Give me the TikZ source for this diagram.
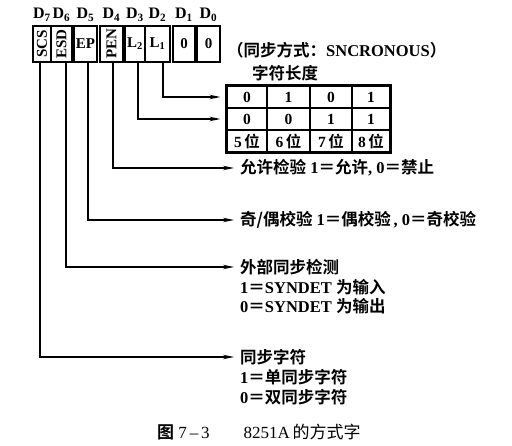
\documentclass[tikz,border=0pt]{standalone}
\usepackage{fontspec}
\setmainfont{Liberation Serif}
\newfontfamily\cjkfont{Noto Sans CJK SC}[BoldFont={* Bold}]
\usetikzlibrary{arrows.meta}
\newcommand\zh[1]{{\cjkfont #1}}
\begin{document}
\begin{tikzpicture}[x=1pt,y=-1pt,
  reg/.style={draw, line width=1.6pt, minimum height=36pt, inner sep=0pt,
    font=\bfseries\fontsize{15}{15}\selectfont},
  dlab/.style={inner sep=0pt, font=\bfseries\fontsize{16}{16}\selectfont},
  tcell/.style={draw, line width=1.1pt, minimum height=22pt, inner sep=0pt,
    font=\bfseries\fontsize{15.5}{15.5}\selectfont},
  lbl/.style={anchor=west, inner sep=0pt, font=\bfseries\fontsize{16.5}{16.5}\selectfont},
  conn/.style={line width=1.3pt},
  arr/.style={conn, -{Stealth[length=11pt,width=4.5pt]}, shorten >=6pt}]
\useasboundingbox (0,0) rectangle (512,446);
% register boxes
\node[reg, minimum width=18pt] (SCS) at (42,44) {\rotatebox{90}{SCS}};
\node[reg, minimum width=21pt] (ESD) at (61.5,44) {\rotatebox{90}{ESD}};
\node[reg, minimum width=23pt] (EP) at (85.5,44) {EP};
\node[reg, minimum width=23pt] (PEN) at (111.5,44) {\rotatebox{90}{PEN}};
\node[reg, minimum width=20pt] (L2) at (135,44) {L\textsubscript{2}};
\node[reg, minimum width=25pt] (L1) at (157.5,44) {L\textsubscript{1}};
\node[reg, minimum width=22pt] (B1) at (184,44) {0};
\node[reg, minimum width=23pt] (B0) at (208.5,44) {0};
% bit labels
\node[dlab] (d7) at (42,15) {D\textsubscript{7}};
\node[dlab] (d6) at (61.5,15) {D\textsubscript{6}};
\node[dlab] (d5) at (85.5,15) {D\textsubscript{5}};
\node[dlab] (d4) at (111.5,15) {D\textsubscript{4}};
\node[dlab] (d3) at (135,15) {D\textsubscript{3}};
\node[dlab] (d2) at (157.5,15) {D\textsubscript{2}};
\node[dlab] (d1) at (184,15) {D\textsubscript{1}};
\node[dlab] (d0) at (208.5,15) {D\textsubscript{0}};
% mode note
\node[lbl] (mode) at (227,50) {\zh{（同步方式：}SNCRONOUS\zh{）}};
% character length table
\node[lbl, anchor=center] (ttl) at (285,73) {\zh{字符长度}};
\node[tcell, minimum width=40pt] (c11) at (247,97) {0};
\node[tcell, minimum width=43pt] (c12) at (288.5,97) {1};
\node[tcell, minimum width=42pt] (c13) at (331,97) {0};
\node[tcell, minimum width=38pt] (c14) at (371,97) {1};
\node[tcell, minimum width=40pt] (c21) at (247,119) {0};
\node[tcell, minimum width=43pt] (c22) at (288.5,119) {0};
\node[tcell, minimum width=42pt] (c23) at (331,119) {1};
\node[tcell, minimum width=38pt] (c24) at (371,119) {1};
\node[tcell, minimum width=40pt] (c31) at (247,141) {5\,\zh{位}};
\node[tcell, minimum width=43pt] (c32) at (288.5,141) {6\,\zh{位}};
\node[tcell, minimum width=42pt] (c33) at (331,141) {7\,\zh{位}};
\node[tcell, minimum width=38pt] (c34) at (371,141) {8\,\zh{位}};
\draw[line width=2pt] (c11.north west) rectangle (c34.south east);
% descriptions
\node[lbl] (pen) at (240,168) {\zh{允许检验} 1\zh{＝允许}, 0\zh{＝禁止}};
\node[lbl] (ep) at (240,220) {\zh{奇/偶校验} 1\zh{＝偶校验}\,, 0\zh{＝奇校验}};
\node[lbl] (esd) at (240,267) {\zh{外部同步检测}};
\node[lbl] (esd2) at (240,287) {1\zh{＝}SYNDET \zh{为输入}};
\node[lbl] (esd3) at (240,306) {0\zh{＝}SYNDET \zh{为输出}};
\node[lbl] (scs) at (240,357) {\zh{同步字符}};
\node[lbl] (scs2) at (240,377) {1\zh{＝单同步字符}};
\node[lbl] (scs3) at (240,397) {0\zh{＝双同步字符}};
% caption
\node[anchor=west, inner sep=0pt, font=\fontsize{17}{17}\selectfont] (cap) at (157,432)
  {{\cjkfont\bfseries 图}\ 7\,--\,3\qquad 8251A\,{\cjkfont 的方式字}};
% connectors
\coordinate (xL1) at (163,0);
\coordinate (xL2) at (138,0);
\coordinate (xPEN) at (113,0);
\coordinate (xEP) at (88,0);
\coordinate (xESD) at (66,0);
\coordinate (xSCS) at (40,0);
\draw[arr] (L1.south -| xL1) |- (c11.west);
\draw[arr] (L2.south -| xL2) |- (c21.west);
\draw[arr] (PEN.south -| xPEN) |- (pen.west);
\draw[arr] (EP.south -| xEP) |- (ep.west);
\draw[arr] (ESD.south -| xESD) |- (esd.west);
\draw[arr] (SCS.south -| xSCS) |- (scs.west);
\end{tikzpicture}
\end{document}
